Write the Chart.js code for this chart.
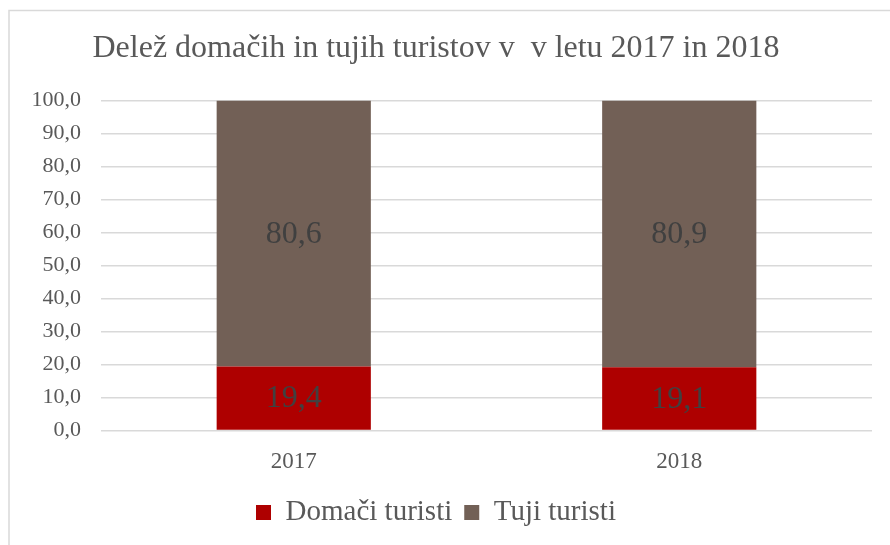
<!DOCTYPE html>
<html>
<head>
<meta charset="utf-8">
<script src="https://cdn.jsdelivr.net/npm/chart.js@4/dist/chart.umd.min.js"></script>
<style>
  html, body { margin: 0; padding: 0; background: #fff; overflow: hidden; }
  canvas { display: block; }
</style>
</head>
<body>
<canvas id="chart" width="890" height="545"></canvas>
<script>
// Podatki
var years = ['2017', '2018'];
var domaci = [19.4, 19.1];
var tuji = [80.6, 80.9];
var seriesNames = ['Domači turisti', 'Tuji turisti'];
var chartTitle = 'Delež domačih in tujih turistov v  v letu 2017 in 2018';

var SERIF = '"Liberation Serif", "Times New Roman", serif';

function fmt(v) {
  return Number(v).toFixed(1).replace('.', ',');
}

// okvir okoli grafa
var framePlugin = {
  id: 'frame',
  beforeDraw: function (chart) {
    var ctx = chart.ctx;
    ctx.save();
    ctx.fillStyle = '#fff';
    ctx.fillRect(0, 0, chart.width, chart.height);
    ctx.strokeStyle = '#d9d9d9';
    ctx.lineWidth = 1.5;
    ctx.strokeRect(9, 10.5, 1000, 1000);
    ctx.restore();
  }
};

// oznake vrednosti na sredini stolpcev
var valueLabels = {
  id: 'valueLabels',
  afterDatasetsDraw: function (chart) {
    var ctx = chart.ctx;
    ctx.save();
    ctx.font = '32px ' + SERIF;
    ctx.fillStyle = '#404040';
    ctx.textAlign = 'center';
    ctx.textBaseline = 'middle';
    chart.data.datasets.forEach(function (ds, i) {
      chart.getDatasetMeta(i).data.forEach(function (bar, j) {
        var p = bar.getProps(['x', 'y', 'base'], true);
        ctx.fillText(fmt(ds.data[j]), p.x, (p.y + p.base) / 2 + 1);
      });
    });
    ctx.restore();
  }
};

new Chart(document.getElementById('chart').getContext('2d'), {
  type: 'bar',
  data: {
    labels: years,
    datasets: [{
      label: seriesNames[0],
      data: domaci,
      backgroundColor: '#ae0000',
      categoryPercentage: 0.4,
      barPercentage: 1
    }, {
      label: seriesNames[1],
      data: tuji,
      backgroundColor: '#726056',
      categoryPercentage: 0.4,
      barPercentage: 1
    }]
  },
  options: {
    responsive: false,
    animation: false,
    layout: { padding: { top: 20, left: 0, right: 18, bottom: 8 } },
    plugins: {
      title: {
        display: true,
        text: chartTitle,
        color: '#595959',
        font: { family: SERIF, size: 32, weight: 'normal' },
        padding: { top: 9, bottom: 33 }
      },
      legend: {
        position: 'bottom',
        labels: {
          color: '#595959',
          font: { family: SERIF, size: 29 },
          boxWidth: 15,
          boxHeight: 15,
          padding: 12
        }
      },
      tooltip: { enabled: false }
    },
    scales: {
      x: {
        stacked: true,
        grid: { display: false },
        border: { display: false },
        ticks: {
          color: '#595959',
          font: { family: SERIF, size: 23 },
          padding: 10
        }
      },
      y: {
        stacked: true,
        min: 0,
        max: 100,
        afterFit: function (scale) { scale.width = 101; },
        grid: { color: '#d9d9d9', lineWidth: 1.5, drawTicks: false },
        border: { display: false },
        ticks: {
          stepSize: 10,
          color: '#595959',
          font: { family: SERIF, size: 22 },
          padding: 20,
          callback: function (v) { return fmt(v); }
        }
      }
    }
  },
  plugins: [framePlugin, valueLabels]
});
</script>
</body>
</html>
